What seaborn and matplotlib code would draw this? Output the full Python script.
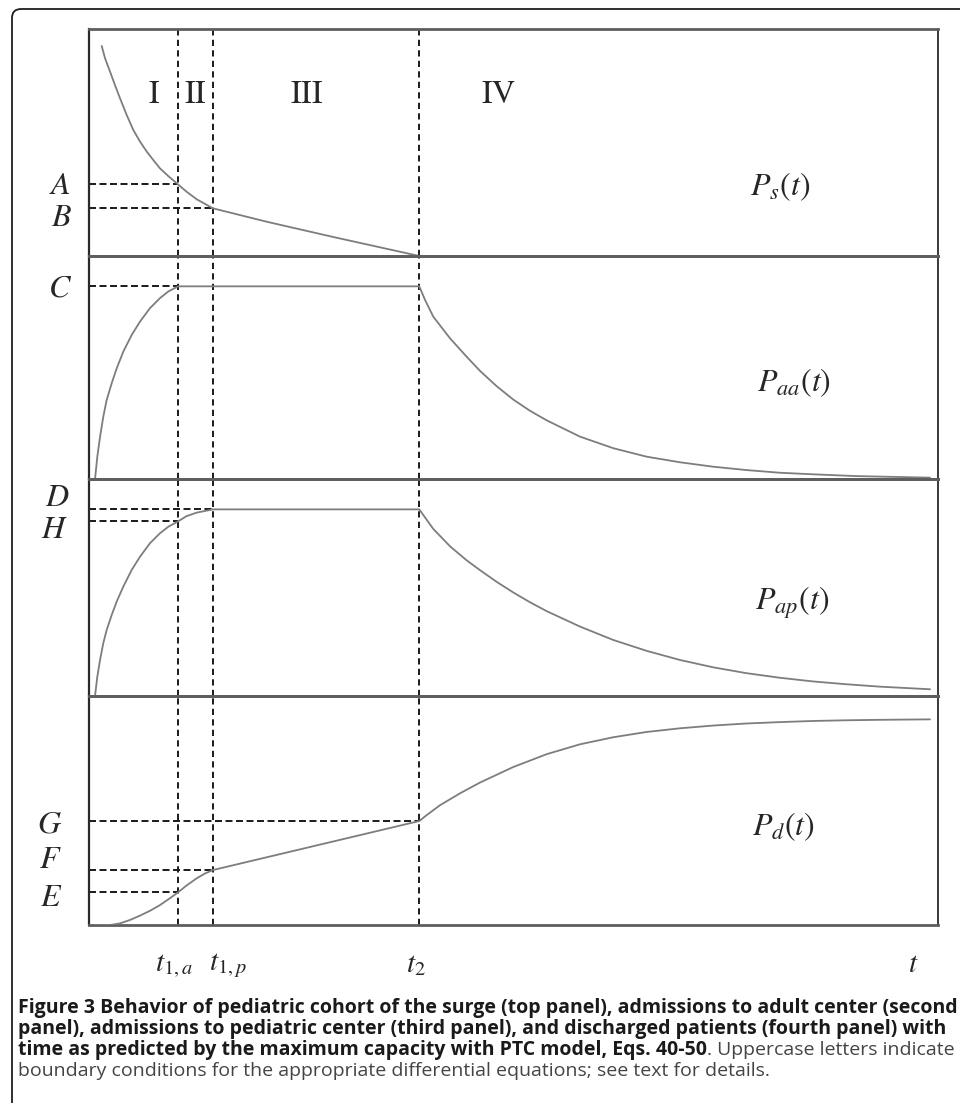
"""Redraw of the pediatric surge panels for the maximum capacity with PTC model."""

import matplotlib

matplotlib.use("Agg")

import matplotlib.pyplot as plt
import seaborn as sns
from matplotlib.patches import FancyBboxPatch

# phase boundaries on the time axis (axis runs 0..10)
T1A = 1.05
T1P = 1.46
T2 = 3.89
time_labels = [r"$t_{1,a}$", r"$t_{1,p}$", r"$t_2$", r"$t$"]

# P_s(t): pediatric cohort of the surge
ps_t = [0.150, 0.189, 0.248, 0.306, 0.365, 0.444, 0.522, 0.601, 0.680, 0.757,
        0.836, 0.934, 1.050, 1.150, 1.268, 1.460, 2.093, 2.874, 3.890, 10.0]
ps_v = [92.5, 87.1, 81.2, 75.3, 69.5, 62.1, 55.5, 50.4, 46.0, 42.3,
        38.6, 35.2, 31.5, 28.3, 25.0, 21.0, 15.1, 8.4, 0.0, 0.0]

# P_aa(t): admissions to adult center
paa_t = [0.071, 0.098, 0.130, 0.168, 0.208, 0.267, 0.326, 0.404, 0.503, 0.601,
         0.718, 0.836, 0.934, 1.050, 3.890, 3.958, 4.055, 4.252, 4.449, 4.605,
         4.802, 4.998, 5.194, 5.391, 5.783, 6.176, 6.569, 6.961, 7.354, 7.747,
         8.139, 8.531, 9.042, 9.906]
paa_v = [0.0, 10.0, 18.9, 27.9, 35.4, 42.9, 49.6, 57.1, 64.6, 70.6,
         76.6, 81.1, 84.1, 86.4, 86.4, 80.3, 72.8, 63.1, 54.8, 48.5,
         41.6, 35.6, 30.6, 26.3, 19.0, 13.8, 10.0, 7.5, 5.5, 4.0,
         2.8, 2.1, 1.3, 0.6]

# P_ap(t): admissions to pediatric center
pap_t = [0.071, 0.098, 0.130, 0.168, 0.208, 0.267, 0.326, 0.404, 0.503, 0.601,
         0.718, 0.836, 0.934, 1.050, 1.150, 1.268, 1.460, 3.890, 4.055, 4.252,
         4.449, 4.605, 4.802, 4.998, 5.194, 5.391, 5.783, 6.176, 6.569, 6.961,
         7.354, 7.747, 8.139, 8.531, 8.925, 9.317, 9.906]
pap_v = [0.0, 8.9, 16.6, 24.3, 30.4, 37.3, 43.5, 50.4, 58.1, 64.2,
         70.4, 75.0, 78.0, 80.5, 82.9, 84.5, 86.0, 86.0, 77.0, 69.0,
         62.5, 58.0, 52.6, 47.7, 43.2, 39.1, 32.0, 25.8, 20.8, 16.6,
         13.2, 10.5, 8.4, 6.7, 5.4, 4.3, 3.1]

# P_d(t): discharged patients
pd_t = [0.071, 0.247, 0.365, 0.483, 0.601, 0.718, 0.836, 0.954, 1.050, 1.151,
        1.269, 1.366, 1.460, 3.890, 3.978, 4.134, 4.370, 4.605, 4.998, 5.391,
        5.783, 6.176, 6.569, 6.961, 7.354, 7.747, 8.139, 8.531, 8.925, 9.317,
        9.906]
pd_v = [0.0, 0.0, 0.7, 2.2, 4.1, 6.2, 8.7, 11.7, 14.3, 17.3,
        20.4, 22.5, 24.0, 45.4, 48.0, 52.3, 57.5, 62.2, 69.0, 74.6,
        78.9, 82.0, 84.3, 85.9, 87.1, 88.0, 88.6, 89.1, 89.4, 89.6,
        89.8]

# boundary conditions: (letter, level, time where the dashed guide stops)
ps_bounds = [("A", 31.5, T1A), ("B", 21.0, T1P)]
paa_bounds = [("C", 86.4, T1A)]
pap_bounds = [("D", 86.0, T1P), ("H", 80.5, T1A)]
pd_bounds = [("G", 45.4, T2), ("F", 24.0, T1P), ("E", 14.3, T1A)]

phase_labels = ["I", "II", "III", "IV"]
curve_names = [r"$P_s(t)$", r"$P_{aa}(t)$", r"$P_{ap}(t)$", r"$P_d(t)$"]

caption_bold_1 = ("Figure 3 Behavior of pediatric cohort of the surge (top panel), "
                  "admissions to adult center (second")
caption_bold_2 = ("panel), admissions to pediatric center (third panel), and "
                  "discharged patients (fourth panel) with")
caption_bold_3 = "time as predicted by the maximum capacity with PTC model, Eqs. 40-50"
caption_reg_3 = ". Uppercase letters indicate"
caption_reg_4 = "boundary conditions for the appropriate differential equations; see text for details."

FIG_W, FIG_H = 960, 1103
LEFT, RIGHT = 89, 938
PANEL_EDGES = [29, 256, 479, 696, 925]

# label anchors in pixels (x, y)
letter_pos = {"A": (71, 185), "B": (72, 217), "C": (72, 288), "D": (70, 497),
              "H": (68, 530), "G": (62, 824), "F": (62, 860), "E": (62, 897)}
phase_pos = [(154, 95), (195, 95), (307, 95), (498, 95)]
name_pos = [(750, 187), (757, 383), (755, 603), (752, 827)]
time_label_pos = [(174, 965), (228, 965), (416, 965), (913, 965)]

CURVE = "#7d7d7d"
DASH = "#1a1a1a"
AXIS = "#5e5e5e"


def px(x, y):
    return x / FIG_W, 1 - y / FIG_H


sns.set_style("white")
plt.rcParams["mathtext.fontset"] = "stix"
plt.rcParams["font.family"] = ["Open Sans", "DejaVu Sans"]

fig = plt.figure(figsize=(FIG_W / 100, FIG_H / 100), dpi=100)

panels = [
    (ps_t, ps_v, ps_bounds),
    (paa_t, paa_v, paa_bounds),
    (pap_t, pap_v, pap_bounds),
    (pd_t, pd_v, pd_bounds),
]

for i, (tt, vv, bounds) in enumerate(panels):
    top, bot = PANEL_EDGES[i], PANEL_EDGES[i + 1]
    ax = fig.add_axes([LEFT / FIG_W, 1 - bot / FIG_H,
                       (RIGHT - LEFT) / FIG_W, (bot - top) / FIG_H])
    ax.set_xlim(0, 10)
    ax.set_ylim(0, 100)
    ax.set_xticks([])
    ax.set_yticks([])
    ax.set_facecolor("none")

    for t_mark in (T1A, T1P, T2):
        ax.axvline(t_mark, color=DASH, lw=1.4, dashes=(3.2, 2.2), zorder=2)
    for _, level, t_stop in bounds:
        ax.hlines(level, 0, t_stop, colors=DASH, lw=1.4,
                  linestyles=(0, (3.6, 1.8)), zorder=2)

    sns.lineplot(x=tt, y=vv, ax=ax, color=CURVE, lw=1.3,
                 estimator=None, sort=False, zorder=3)

    for side in ("top", "bottom"):
        ax.spines[side].set_color(AXIS)
        ax.spines[side].set_linewidth(2.0)
    ax.spines["left"].set_color("#2a2a2a")
    ax.spines["left"].set_linewidth(1.6)
    ax.spines["right"].set_color("#3a3a3a")
    ax.spines["right"].set_linewidth(1.4)

# boundary letters at the left
for _, _, bounds in panels:
    for letter, _, _ in bounds:
        x, y = letter_pos[letter]
        fig.text(*px(x, y), f"${letter}$", fontsize=23, ha="right", va="center")

for label, (x, y) in zip(phase_labels, phase_pos):
    fig.text(*px(x, y), rf"$\mathrm{{{label}}}$", fontsize=23, ha="center", va="center")

for name, (x, y) in zip(curve_names, name_pos):
    fig.text(*px(x, y), name, fontsize=23, ha="left", va="center")

for label, (x, y) in zip(time_labels, time_label_pos):
    fig.text(*px(x, y), label, fontsize=21, ha="center", va="center")

# rounded frame around the figure, cut by the right and bottom edges
frame = FancyBboxPatch((0.12, -1.0), 12.0, FIG_H / 100 - 0.09 + 1.0,
                       boxstyle="round,pad=0,rounding_size=0.09",
                       transform=fig.dpi_scale_trans, fill=False,
                       ec="#1f1f1f", lw=1.3)
fig.add_artist(frame)

# caption, bold lead then regular tail
renderer = fig.canvas.get_renderer()
cap_x = 18
cap_y = [1008, 1029, 1050, 1071]
probe = fig.text(*px(cap_x, cap_y[0]), caption_bold_1, fontsize=11,
                 weight="bold", va="center", color="#1a1a1a")
width = probe.get_window_extent(renderer).width
cap_size = 11 * (955 - cap_x) / width
probe.set_fontsize(cap_size)
fig.text(*px(cap_x, cap_y[1]), caption_bold_2, fontsize=cap_size,
         weight="bold", va="center", color="#1a1a1a")
bold3 = fig.text(*px(cap_x, cap_y[2]), caption_bold_3, fontsize=cap_size,
                 weight="bold", va="center", color="#1a1a1a")
end3 = bold3.get_window_extent(renderer).x1
fig.text(end3 / FIG_W, 1 - cap_y[2] / FIG_H, caption_reg_3, fontsize=cap_size,
         va="center", color="#444444")
fig.text(*px(cap_x, cap_y[3]), caption_reg_4, fontsize=cap_size,
         va="center", color="#444444")

fig.savefig("out.png", dpi=100)
